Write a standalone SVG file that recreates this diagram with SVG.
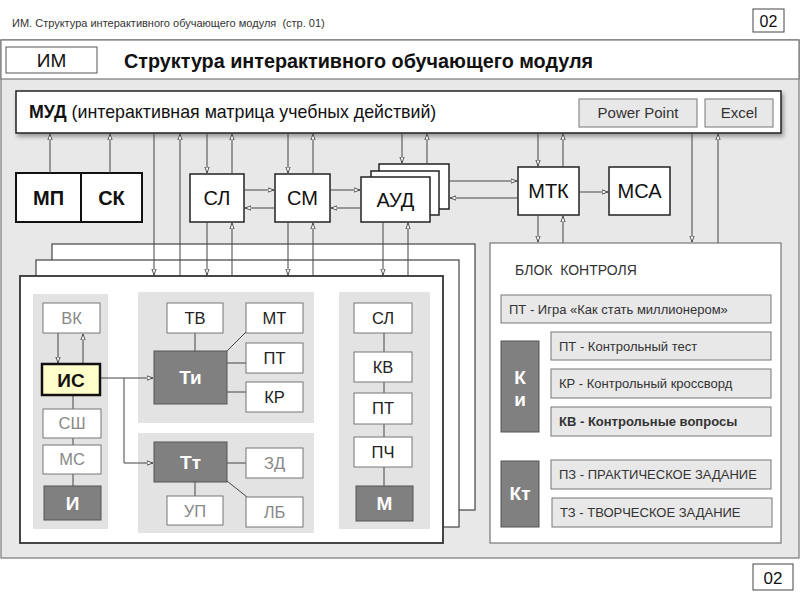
<svg xmlns="http://www.w3.org/2000/svg" width="800" height="600" viewBox="0 0 800 600">
<defs>
<marker id="ah" viewBox="0 0 10 10" refX="10" refY="5" markerWidth="6" markerHeight="6" orient="auto-start-reverse" markerUnits="userSpaceOnUse"><path d="M0,1.5 L10,5 L0,8.5 Z" fill="#fff" stroke="#444" stroke-width="1.5"/></marker>
<filter id="sh" x="-5%" y="-20%" width="110%" height="150%"><feGaussianBlur in="SourceAlpha" stdDeviation="2"/><feOffset dx="2" dy="3"/><feComponentTransfer><feFuncA type="linear" slope="0.35"/></feComponentTransfer><feMerge><feMergeNode/><feMergeNode in="SourceGraphic"/></feMerge></filter>
</defs>
<style>
text{font-family:"Liberation Sans",Arial,sans-serif;white-space:pre;}
.c{stroke:#444;stroke-width:1;fill:none;}
.a{marker-end:url(#ah);}
.wb{fill:#fff;stroke:#222;stroke-width:1.5;}
.sb{fill:#fff;stroke:#777;stroke-width:1;}
.db{fill:#808080;stroke:#555;stroke-width:1;}
.pn{fill:#e3e3e3;}
.lb{fill:#e8e8e8;stroke:#777;stroke-width:1;}
.t20{font-size:20px;fill:#111;text-anchor:middle;}
.t15{font-size:16.5px;fill:#222;text-anchor:middle;}
.g15{font-size:16.5px;fill:#888;text-anchor:middle;}
.wt{font-size:19px;font-weight:bold;fill:#fff;text-anchor:middle;}
.k{font-size:13px;fill:#333;}
</style>
<rect x="0" y="0" width="800" height="600" fill="#fff"/>
<text x="12" y="27" font-size="11" fill="#333" xml:space="preserve">ИМ. Структура интерактивного обучающего модуля  (стр. 01)</text>
<g id="page-top"><rect x="753" y="9" width="31" height="23" fill="#fff" stroke="#444"/><text x="768.5" y="27" font-size="16" fill="#111" text-anchor="middle">02</text></g>
<rect x="1" y="40" width="798" height="518" fill="#e8e8e8" stroke="#777" stroke-width="1.2"/>
<rect x="1" y="40" width="798" height="39" fill="#fff" stroke="#777" stroke-width="1.2"/>
<g id="im"><rect x="6" y="47" width="91" height="26" fill="#fff" stroke="#555"/><text x="51.5" y="67" font-size="19" fill="#111" text-anchor="middle">ИМ</text></g>
<text x="124" y="68" font-size="19.8" font-weight="bold" fill="#111">Структура интерактивного обучающего модуля</text>

<g id="mud"><rect x="16" y="91" width="765" height="42" fill="#fff" stroke="#222" stroke-width="1.5" filter="url(#sh)"/>
<text x="29" y="118" font-size="17.8" fill="#111"><tspan font-weight="bold">МУД</tspan> (интерактивная матрица учебных действий)</text></g>
<g id="pp"><rect x="579" y="99" width="118" height="28" class="lb"/><text x="638" y="118" font-size="15" fill="#333" text-anchor="middle">Power Point</text></g>
<g id="excel"><rect x="705" y="99" width="68" height="28" class="lb"/><text x="739" y="118" font-size="15" fill="#333" text-anchor="middle">Excel</text></g>

<g id="mp-sk"><rect x="16" y="173" width="126" height="49" fill="#fff" stroke="#111" stroke-width="2"/><line x1="81" y1="173" x2="81" y2="222" stroke="#111" stroke-width="2"/>
<text x="48.5" y="205" font-size="20" font-weight="bold" fill="#111" text-anchor="middle">МП</text><text x="111.5" y="205" font-size="20" font-weight="bold" fill="#111" text-anchor="middle">СК</text></g>
<g id="sl"><rect x="190" y="174" width="54" height="48" class="wb"/><text x="217" y="205" class="t20">СЛ</text></g>
<g id="sm"><rect x="275" y="174" width="55" height="48" class="wb"/><text x="302.5" y="205" class="t20">СМ</text></g>
<g id="aud"><rect x="379" y="164" width="70" height="45" class="wb" stroke-width="1"/><rect x="371" y="171" width="68" height="44" class="wb" stroke-width="1"/><rect x="361" y="177" width="69" height="45" class="wb"/><text x="395.5" y="207" class="t20">АУД</text></g>
<g id="mtk"><rect x="518" y="167" width="61" height="48" class="wb"/><text x="548.5" y="198" class="t20">МТК</text></g>
<g id="msa"><rect x="609" y="167" width="61" height="48" class="wb"/><text x="639.5" y="198" class="t20">МСА</text></g>

<g id="stack">
<rect x="52" y="244" width="423" height="266" fill="#fff" stroke="#444" stroke-width="1.2"/>
<rect x="36" y="260" width="423" height="267" fill="#fff" stroke="#444" stroke-width="1.2"/>
<rect x="20" y="276" width="423" height="267" fill="#fff" stroke="#333" stroke-width="1.8"/>
<rect x="33" y="294" width="75" height="235" class="pn"/>
<rect x="138" y="292" width="176" height="131" class="pn"/>
<rect x="138" y="433" width="176" height="100" class="pn"/>
<rect x="339" y="292" width="91" height="237" class="pn"/>
</g>

<g id="connectors">
<line x1="50" y1="173" x2="50" y2="134" class="c a"/>
<line x1="110" y1="173" x2="110" y2="134" class="c a"/>
<line x1="154" y1="134" x2="154" y2="275" class="c a"/>
<line x1="180" y1="276" x2="180" y2="134" class="c a"/>
<line x1="207" y1="134" x2="207" y2="173" class="c a"/>
<line x1="232" y1="174" x2="232" y2="134" class="c a"/>
<line x1="207" y1="222" x2="207" y2="275" class="c a"/>
<line x1="232" y1="276" x2="232" y2="223" class="c a"/>
<line x1="288" y1="134" x2="288" y2="173" class="c a"/>
<line x1="313" y1="174" x2="313" y2="134" class="c a"/>
<line x1="288" y1="222" x2="288" y2="275" class="c a"/>
<line x1="313" y1="276" x2="313" y2="223" class="c a"/>
<line x1="402" y1="134" x2="402" y2="163" class="c a"/>
<line x1="427" y1="164" x2="427" y2="134" class="c a"/>
<line x1="383" y1="222" x2="383" y2="275" class="c a"/>
<line x1="408" y1="276" x2="408" y2="223" class="c a"/>
<line x1="538" y1="134" x2="538" y2="166" class="c a"/>
<line x1="563" y1="167" x2="563" y2="134" class="c a"/>
<line x1="538" y1="215" x2="538" y2="242" class="c a"/>
<line x1="563" y1="243" x2="563" y2="216" class="c a"/>
<line x1="692" y1="134" x2="692" y2="242" class="c a"/>
<line x1="718" y1="243" x2="718" y2="134" class="c a"/>
<line x1="244" y1="190" x2="274" y2="190" class="c a"/>
<line x1="275" y1="208" x2="245" y2="208" class="c a"/>
<line x1="330" y1="190" x2="360" y2="190" class="c a"/>
<line x1="361" y1="208" x2="331" y2="208" class="c a"/>
<line x1="449" y1="181" x2="517" y2="181" class="c a"/>
<line x1="518" y1="198" x2="450" y2="198" class="c a"/>
<line x1="579" y1="192" x2="608" y2="192" class="c a"/>
<line x1="58" y1="333" x2="58" y2="363" class="c a"/>
<line x1="83" y1="364" x2="83" y2="334" class="c a"/>
<line x1="73" y1="395" x2="73" y2="486" class="c"/>
<line x1="100" y1="378" x2="153" y2="378" class="c a"/>
<polyline points="124,378 124,463 153,463" class="c a"/>
<line x1="195" y1="333" x2="195" y2="351" class="c"/>
<line x1="227" y1="351" x2="246" y2="332" class="c"/>
<line x1="227" y1="363" x2="246" y2="363" class="c"/>
<line x1="227" y1="392" x2="246" y2="392" class="c"/>
<line x1="227" y1="463" x2="246" y2="463" class="c"/>
<line x1="227" y1="481" x2="247" y2="497" class="c"/>
<line x1="195" y1="482" x2="195" y2="496" class="c"/>
<line x1="384" y1="333" x2="384" y2="486" class="c"/>
<line x1="520" y1="323" x2="520" y2="341" class="c"/>
<line x1="539" y1="350" x2="551" y2="350" class="c"/>
<line x1="539" y1="384" x2="551" y2="384" class="c"/>
<line x1="539" y1="419" x2="551" y2="419" class="c"/>
<line x1="539" y1="476" x2="551" y2="476" class="c"/>
<line x1="539" y1="512" x2="552" y2="512" class="c"/>
</g>

<g id="vk"><rect x="43" y="303" width="57" height="30" class="sb"/><text x="71.5" y="324" class="g15">ВК</text></g>
<g id="is"><rect x="42" y="364" width="58" height="31" fill="#ffffcc" stroke="#111" stroke-width="2.5"/><text x="71" y="387" font-size="19" font-weight="bold" fill="#111" text-anchor="middle">ИС</text></g>
<g id="ssh"><rect x="43" y="409" width="58" height="29" class="sb"/><text x="72" y="429" class="g15">СШ</text></g>
<g id="ms"><rect x="43" y="445" width="58" height="29" class="sb"/><text x="72" y="465" class="g15">МС</text></g>
<g id="i"><rect x="44" y="486" width="57" height="34" class="db"/><text x="72.5" y="510" class="wt">И</text></g>

<g id="tv"><rect x="167" y="303" width="56" height="30" class="sb"/><text x="195" y="324" class="t15">ТВ</text></g>
<g id="mt"><rect x="246" y="303" width="57" height="30" class="sb"/><text x="274.5" y="324" class="t15">МТ</text></g>
<g id="pt1"><rect x="246" y="343" width="57" height="30" class="sb"/><text x="274.5" y="364" class="t15">ПТ</text></g>
<g id="kr1"><rect x="246" y="382" width="57" height="30" class="sb"/><text x="274.5" y="403" class="t15">КР</text></g>
<g id="ti"><rect x="154" y="351" width="73" height="53" class="db"/><text x="190.5" y="384" class="wt">Ти</text></g>

<g id="tt"><rect x="154" y="442" width="73" height="40" class="db"/><text x="190.5" y="469" class="wt">Тт</text></g>
<g id="zd"><rect x="246" y="448" width="57" height="30" class="sb"/><text x="274.5" y="469" class="g15">ЗД</text></g>
<g id="lb"><rect x="246" y="497" width="57" height="30" class="sb"/><text x="274.5" y="518" class="g15">ЛБ</text></g>
<g id="up"><rect x="167" y="496" width="56" height="29" class="sb"/><text x="195" y="517" class="g15">УП</text></g>

<g id="sl2"><rect x="354" y="303" width="58" height="30" class="sb"/><text x="383" y="324" class="t15">СЛ</text></g>
<g id="kv"><rect x="354" y="352" width="58" height="30" class="sb"/><text x="383" y="373" class="t15">КВ</text></g>
<g id="pt2"><rect x="354" y="393" width="58" height="31" class="sb"/><text x="383" y="414" class="t15">ПТ</text></g>
<g id="pch"><rect x="354" y="437" width="58" height="30" class="sb"/><text x="383" y="458" class="t15">ПЧ</text></g>
<g id="m"><rect x="356" y="486" width="57" height="35" class="db"/><text x="384.5" y="510" class="wt">М</text></g>

<g id="control">
<rect x="490" y="243" width="291" height="300" fill="#fff" stroke="#777" stroke-width="1.2"/>
<text x="515" y="275" font-size="14" fill="#333" xml:space="preserve">БЛОК  КОНТРОЛЯ</text>
</g>
<g id="pt-game"><rect x="501" y="295" width="270" height="28" class="lb"/><text x="509" y="314" class="k">ПТ - Игра «Как стать миллионером»</text></g>
<g id="ki"><rect x="501" y="341" width="38" height="91" class="db"/><text x="520" y="384" class="wt" font-size="20">К</text><text x="520" y="406" class="wt" font-size="20">и</text></g>
<g id="pt-test"><rect x="551" y="332" width="220" height="28" class="lb"/><text x="559" y="351" class="k">ПТ - Контрольный тест</text></g>
<g id="kr-cross"><rect x="551" y="369" width="220" height="29" class="lb"/><text x="559" y="388" class="k">КР - Контрольный кроссворд</text></g>
<g id="kv-q"><rect x="551" y="407" width="220" height="29" class="lb" stroke="#333" stroke-width="1.5"/><text x="559" y="426" class="k" font-weight="bold" fill="#111">КВ - Контрольные вопросы</text></g>
<g id="kt"><rect x="501" y="461" width="38" height="66" class="db"/><text x="520" y="500" class="wt" font-size="20">Кт</text></g>
<g id="pz"><rect x="551" y="460" width="220" height="29" class="lb"/><text x="559" y="479" class="k">ПЗ - ПРАКТИЧЕСКОЕ ЗАДАНИЕ</text></g>
<g id="tz"><rect x="552" y="498" width="220" height="29" class="lb"/><text x="560" y="517" class="k">ТЗ - ТВОРЧЕСКОЕ ЗАДАНИЕ</text></g>

<g id="page-bottom"><rect x="753" y="564" width="40" height="26" fill="#fff" stroke="#444"/><text x="773" y="584" font-size="17" fill="#111" text-anchor="middle">02</text></g>
</svg>
